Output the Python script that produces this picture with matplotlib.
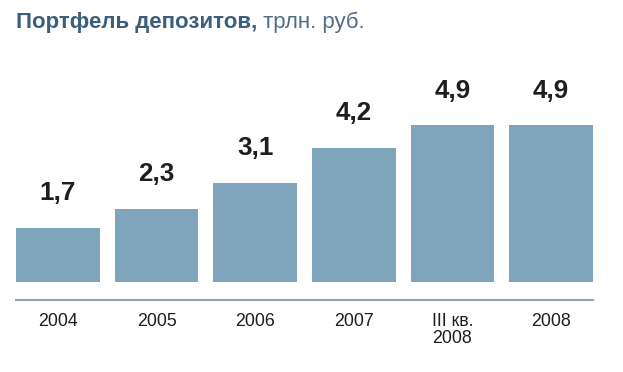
import matplotlib
matplotlib.use("Agg")
import matplotlib.pyplot as plt

plt.rcParams['font.family'] = ['Liberation Sans', 'DejaVu Sans']

# данные
periods = ["2004", "2005", "2006", "2007", "III кв.\n2008", "2008"]
deposits = [1.7, 2.3, 3.1, 4.2, 4.9, 4.9]
value_labels = ["1,7", "2,3", "3,1", "4,2", "4,9", "4,9"]

bar_color = "#7fa5bd"
line_color = "#8aa8bb"

fig = plt.figure(figsize=(6.23, 3.72), dpi=100)
ax = fig.add_axes([16/623, 1-300/372, 577/623, 200/372])

x = range(len(periods))
bars = ax.bar(x, deposits, width=0.85, color=bar_color)

for b, lab in zip(bars, value_labels):
    ax.annotate(lab, (b.get_x() + b.get_width()/2, b.get_height()),
                xytext=(0, 19.8), textcoords="offset points",
                ha="center", va="baseline", fontsize=18.7,
                fontweight="bold", color="#1e1e1e")

ax.set_xlim(-0.425, len(periods) - 0.575)
ax.set_ylim(-0.545, 5.68)
ax.set_xticks(list(x))
ax.set_xticklabels(periods, fontsize=12.8, color="#1e1e1e",
                   linespacing=0.95, multialignment="left")
ax.tick_params(axis="x", length=0, pad=9.5)
ax.set_yticks([])
for s in ["top", "left", "right"]:
    ax.spines[s].set_visible(False)
ax.spines["bottom"].set_color(line_color)
ax.spines["bottom"].set_linewidth(1.5)

# заголовок
t1 = fig.text(16/623, 1-28/372, "Портфель депозитов,", fontsize=16,
              fontweight="bold", color="#3c5f7d", va="baseline")
ax.annotate(" трлн. руб.", xy=(1, 0), xycoords=t1, va="bottom",
            fontsize=16, color="#4f6e88")

fig.savefig("out.png", dpi=100)
